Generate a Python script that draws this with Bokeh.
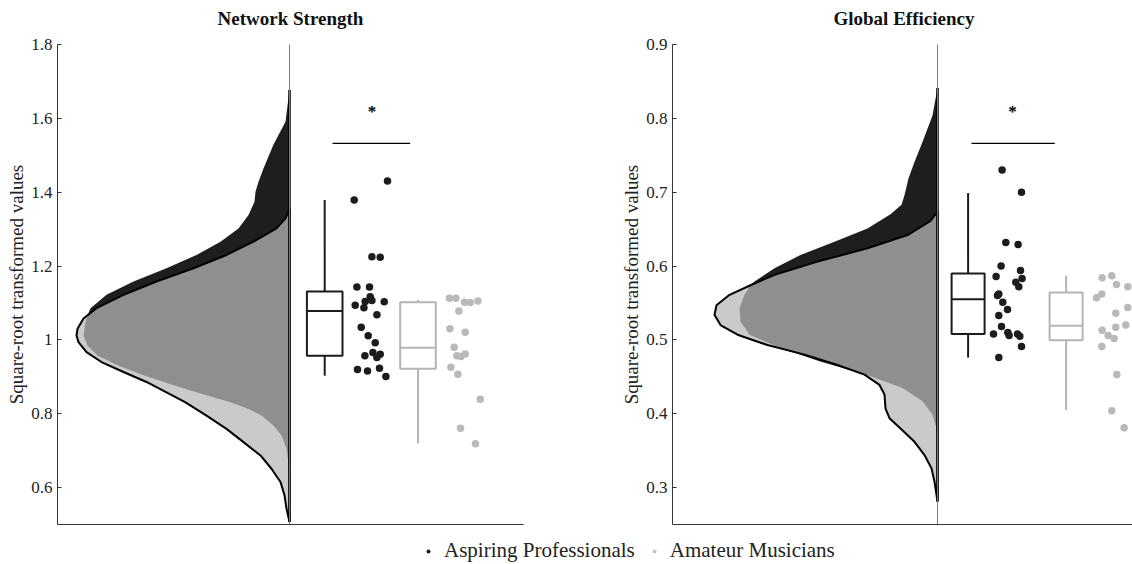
from bokeh.plotting import figure
from bokeh.models import Range1d, FixedTicker, Span, Legend, LegendItem, Title
from bokeh.layouts import row, column
from bokeh.embed import file_html
from bokeh.resources import INLINE
from bokeh.core.properties import value

# ---------------- data ----------------
groups = ["Aspiring Professionals", "Amateur Musicians"]

# Network Strength
ns_ticks = [0.6, 0.8, 1.0, 1.2, 1.4, 1.6, 1.8]
ns_tick_labels = ["0.6", "0.8", "1", "1.2", "1.4", "1.6", "1.8"]
ns_ap_dens_y = [1.677, 1.591, 1.529, 1.464, 1.428, 1.401, 1.374, 1.338, 1.302, 1.266, 1.230,
                1.194, 1.158, 1.122, 1.086, 1.066, 1.048, 1.012, 0.985, 0.958, 0.931, 0.904,
                0.877, 0.850, 0.831, 0.813, 0.795, 0.768, 0.741, 0.705, 0.669, 0.633]
ns_ap_dens_w = [0, 4, 16, 26, 31, 34, 35, 41, 51, 69, 93, 123, 156, 183, 199, 202, 204, 206,
                202, 192, 172, 146, 116, 83, 59, 41, 28, 16, 8, 3, 1, 0]
ns_am_dens_y = [1.356, 1.329, 1.302, 1.266, 1.230, 1.194, 1.158, 1.122, 1.086, 1.058, 1.030,
                1.012, 0.994, 0.967, 0.940, 0.913, 0.886, 0.858, 0.831, 0.795, 0.759, 0.723,
                0.687, 0.651, 0.615, 0.579, 0.543, 0.507]
ns_am_dens_w = [0, 4, 13, 36, 63, 96, 133, 166, 193, 206, 212, 213, 211, 203, 188, 166, 143,
                123, 104, 83, 63, 46, 29, 18, 9, 5, 3, 0]
# box stats: whisker low, q1, median, q3, whisker high
ns_ap_box = [0.903, 0.957, 1.078, 1.131, 1.379]
ns_am_box = [0.720, 0.922, 0.979, 1.102, 1.108]
ns_ap_vals = [1.430, 1.379, 1.225, 1.224, 1.143, 1.143, 1.117, 1.104, 1.107, 1.103, 1.094, 1.087,
              1.068, 1.034, 1.011, 0.992, 0.966, 0.957, 0.961, 0.952, 0.920, 0.916, 0.923, 0.901]
ns_ap_jitter = [16.3, -17, 0.7, 9, -14.3, -1.7, -1, -6, 0.7, 13, -16, -7.3, 5.7, -10, -3, 4,
                1.7, -6.3, 9, 5.7, -13.7, -3.7, 8.3, 14.7]
ns_am_vals = [1.113, 1.113, 1.102, 1.101, 1.105, 1.078, 1.030, 1.021, 0.980, 0.957, 0.955,
              0.962, 0.926, 0.907, 0.839, 0.761, 0.719]
ns_am_jitter = [-15.2, -8.8, -0.2, 5.5, 13.2, -5.8, -14.8, 0.5, -10.5, -7.8, -3.8, 0.5, -13.8,
                -6.8, 15.5, -4.2, 10.8]
ns_sig_line = 1.532
ns_sig_star = 1.621

# Global Efficiency
ge_ticks = [0.3, 0.4, 0.5, 0.6, 0.7, 0.8, 0.9]
ge_tick_labels = ["0.3", "0.4", "0.5", "0.6", "0.7", "0.8", "0.9"]
ge_ap_dens_y = [0.841, 0.804, 0.768, 0.741, 0.719, 0.696, 0.683, 0.670, 0.651, 0.633, 0.615,
                0.597, 0.579, 0.574, 0.561, 0.543, 0.525, 0.507, 0.489, 0.471, 0.453, 0.435,
                0.417, 0.399, 0.380, 0.365]
ge_ap_dens_w = [0, 5, 15, 23, 29, 33, 36, 47, 70, 103, 137, 163, 183, 187, 193, 198, 197, 188,
                157, 118, 72, 35, 15, 5, 1, 0]
ge_am_dens_y = [0.674, 0.661, 0.642, 0.624, 0.606, 0.588, 0.574, 0.561, 0.547, 0.534, 0.520,
                0.507, 0.493, 0.480, 0.466, 0.453, 0.439, 0.426, 0.407, 0.394, 0.380, 0.362,
                0.344, 0.326, 0.308, 0.290, 0.281]
ge_am_dens_w = [0, 7, 30, 70, 120, 163, 187, 208, 221, 223, 217, 200, 170, 133, 100, 73, 58, 53,
                52, 48, 37, 23, 13, 6, 3, 1, 0]
ge_ap_box = [0.476, 0.508, 0.555, 0.590, 0.699]
ge_am_box = [0.405, 0.4995, 0.519, 0.564, 0.587]
ge_ap_vals = [0.730, 0.700, 0.632, 0.629, 0.600, 0.594, 0.586, 0.583, 0.578, 0.572, 0.562, 0.560,
              0.551, 0.541, 0.533, 0.518, 0.508, 0.510, 0.506, 0.508, 0.505, 0.491, 0.476]
ge_ap_jitter = [-5.2, 14.2, -1.5, 10.8, -6.2, 13.2, -11.2, 14.8, 8.5, 11.5, -8.5, -9.8, -4.5, 0.2,
                -8.5, -5.8, -13.8, 0.5, 1.8, 10.2, 12.5, 14.2, -8.5]
ge_am_vals = [0.584, 0.587, 0.575, 0.572, 0.562, 0.557, 0.544, 0.536, 0.517, 0.520, 0.513, 0.506,
              0.502, 0.491, 0.453, 0.404, 0.381]
ge_am_jitter = [-9.7, 0, 4.7, 16, -10, -15.3, 16, 4, 4, 14, -9.7, -3.7, 2.3, -10, 5, 0, 12.3]
ge_sig_line = 0.766
ge_sig_star = 0.810

# ---------------- styling ----------------
SERIF = "Liberation Serif"
AP_COLOR = "#1c1c1c"
AM_COLOR = "#b9b9b9"
AP_FILL = "#1e1e1e"
AM_FILL = "#b7b7b7"
BOX_AM = "#b4b4b4"
PANEL_H = 529


def make_panel(title, yr, xr, ticks, tick_labels, ap_dy, ap_dw, am_dy, am_dw, ap_box, am_box,
               ap_vals, ap_jit, am_vals, am_jit, sig_line, sig_star, lay, width, bl, br,
               title_align, title_offset):
    p = figure(width=width, height=PANEL_H, x_range=Range1d(*xr), y_range=Range1d(*yr),
               output_backend="svg", toolbar_location=None, title=None,
               min_border_left=bl, min_border_right=br, min_border_top=43, min_border_bottom=5)
    p.outline_line_color = None
    p.grid.visible = False

    # spacer between frame and title, then the title itself
    p.add_layout(Title(text=" ", text_font_size="1px", standoff=8), "above")
    p.add_layout(Title(text=title, align=title_align, offset=title_offset,
                       vertical_align="bottom", standoff=10, text_font=SERIF,
                       text_font_style="bold", text_font_size="19px",
                       text_color="#111111"), "above")

    # y axis
    ya = p.yaxis[0]
    ya.ticker = FixedTicker(ticks=ticks)
    ya.major_label_overrides = {t: l for t, l in zip(ticks, tick_labels)}
    ya.major_tick_in = 4
    ya.major_tick_out = 0
    ya.minor_tick_line_color = None
    ya.axis_line_color = "#333333"
    ya.major_tick_line_color = "#333333"
    ya.major_label_text_font = SERIF
    ya.major_label_text_font_size = "17px"
    ya.major_label_text_color = "#222222"
    ya.major_label_standoff = 5
    ya.axis_label = "Square-root transformed values"
    ya.axis_label_text_font = SERIF
    ya.axis_label_text_font_size = "19px"
    ya.axis_label_text_font_style = "normal"
    ya.axis_label_text_color = "#222222"
    ya.axis_label_standoff = 1

    # x axis: line only
    xa = p.xaxis[0]
    xa.ticker = FixedTicker(ticks=[])
    xa.major_tick_out = 0
    xa.major_tick_in = 0
    xa.minor_tick_line_color = None
    xa.major_label_standoff = 0
    xa.axis_line_color = "#333333"

    # half-violin densities
    p.patch(x=[-w for w in ap_dw], y=ap_dy, fill_color=AP_FILL, line_color=None)
    p.patch(x=[-w for w in am_dw], y=am_dy, fill_color=AM_FILL, fill_alpha=0.74,
            line_color="black", line_width=2)
    p.add_layout(Span(location=0, dimension="height", line_color="#7a7a7a", line_width=1))
    lo = min(ap_dy + am_dy)
    hi = max(ap_dy + am_dy)
    p.line(x=[0, 0], y=[lo, hi], line_color="black", line_width=2.5)

    # box plots
    bw = lay["box_w"]
    for c, box, col in ((lay["box_ap"], ap_box, AP_COLOR), (lay["box_am"], am_box, BOX_AM)):
        wlo, q1, med, q3, whi = box
        p.quad(left=[c - bw / 2], right=[c + bw / 2], bottom=[q1], top=[q3],
               fill_color=None, line_color=col, line_width=2)
        p.segment(x0=[c - bw / 2], y0=[med], x1=[c + bw / 2], y1=[med],
                  line_color=col, line_width=2)
        p.segment(x0=[c, c], y0=[q3, q1], x1=[c, c], y1=[whi, wlo],
                  line_color=col, line_width=2)

    # raw points
    p.scatter(x=[lay["pts_ap"] + j for j in ap_jit], y=ap_vals, size=7.5,
              fill_color=AP_COLOR, line_color=None)
    p.scatter(x=[lay["pts_am"] + j for j in am_jit], y=am_vals, size=7.5,
              fill_color=AM_COLOR, line_color=None)

    # significance
    p.segment(x0=[lay["sig0"]], y0=[sig_line], x1=[lay["sig1"]], y1=[sig_line],
              line_color="black", line_width=1.2)
    p.text(x=[lay["star"]], y=[sig_star], text=["*"], text_font=value(SERIF),
           text_font_size="17px", text_font_style="bold", text_align="center",
           text_baseline="middle", y_offset=1, text_color="black")
    return p


ns_layout = dict(box_ap=35.2, box_am=128.5, box_w=35.6, pts_ap=81.7, pts_am=175.2,
                 sig0=43.0, sig1=120.7, star=82.4)
ge_layout = dict(box_ap=30.6, box_am=128.6, box_w=33.0, pts_ap=69.8, pts_am=174.3,
                 sig0=34.0, sig1=117.3, star=75.0)

p1 = make_panel("Network Strength", (0.5, 1.8), (-232, 234), ns_ticks, ns_tick_labels,
                ns_ap_dens_y, ns_ap_dens_w, ns_am_dens_y, ns_am_dens_w, ns_ap_box, ns_am_box,
                ns_ap_vals, ns_ap_jitter, ns_am_vals, ns_am_jitter, ns_sig_line, ns_sig_star,
                ns_layout, width=600, bl=57, br=77, title_align="center", title_offset=0)
p2 = make_panel("Global Efficiency", (0.25, 0.9), (-265, 195), ge_ticks, ge_tick_labels,
                ge_ap_dens_y, ge_ap_dens_w, ge_am_dens_y, ge_am_dens_w, ge_ap_box, ge_am_box,
                ge_ap_vals, ge_ap_jitter, ge_am_vals, ge_am_jitter, ge_sig_line, ge_sig_star,
                ge_layout, width=532, bl=72, br=0, title_align="left", title_offset=161)

# legend strip
leg = figure(width=1132, height=564 - PANEL_H, x_range=Range1d(0, 1), y_range=Range1d(0, 1),
             output_backend="svg", toolbar_location=None,
             min_border_left=0, min_border_right=0, min_border_top=0, min_border_bottom=0)
leg.axis.visible = False
leg.grid.visible = False
leg.outline_line_color = None
nan = float("nan")
r_ap = leg.scatter(x=[nan], y=[nan], size=5, fill_color=AP_COLOR, line_color=None)
r_am = leg.scatter(x=[nan], y=[nan], size=5, fill_color="#c4c4c4", line_color=None)
legend = Legend(items=[LegendItem(label=groups[0], renderers=[r_ap]),
                       LegendItem(label=groups[1], renderers=[r_am])],
                orientation="horizontal", location=(423, 1),
                glyph_width=10, glyph_height=20, label_standoff=11, spacing=14,
                padding=0, margin=0, border_line_color=None, background_fill_alpha=0,
                label_text_font=SERIF, label_text_font_size="21px",
                label_text_color="#222222")
leg.add_layout(legend)

layout = column(row(p1, p2), leg)
open("out.html", "w").write(file_html(layout, INLINE))
